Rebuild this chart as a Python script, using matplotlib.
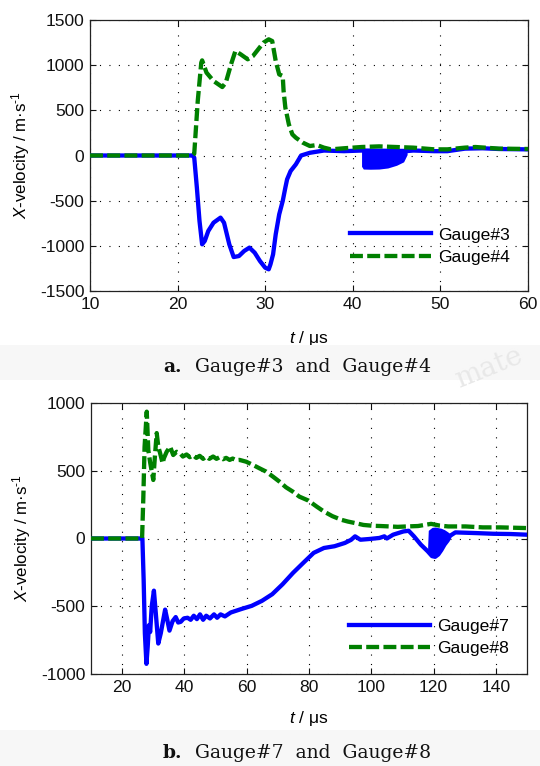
import matplotlib
matplotlib.use("Agg")
import matplotlib.pyplot as plt
from matplotlib.patches import Rectangle

plt.rcParams["font.family"] = ["Liberation Sans", "DejaVu Sans"]
plt.rcParams["mathtext.fontset"] = "custom"
plt.rcParams["mathtext.rm"] = "Liberation Sans"
plt.rcParams["mathtext.it"] = "Liberation Sans:italic"
plt.rcParams["axes.unicode_minus"] = False

# ---- (a) Gauge#3 and Gauge#4 ----
t3 = [10, 21.7, 21.9, 22.2, 22.5, 22.8, 23.1, 23.5, 24.1, 24.9, 25.3, 25.9, 26.4,
      27.0, 27.6, 28.2, 28.8, 29.4, 30.0, 30.4, 30.6, 30.9, 31.2, 31.6, 32.0, 32.3,
      32.5, 32.9, 33.5, 34.1, 35.1, 36.7, 39.0, 41.0, 46.3, 46.9, 49.3, 50.8, 52.8,
      54.8, 56.7, 60]
v3 = [0, 0, -24, -356, -725, -983, -946, -836, -744, -688, -744, -983, -1124,
      -1113, -1057, -1020, -1076, -1168, -1242, -1260, -1205, -1094, -873, -651, -504, -356,
      -264, -172, -98, 0, 30, 55, 48, 55, 50, 55, 48, 48, 76,
      80, 72, 68]
# oscillation envelope of Gauge#3 between 41 and 46 us
t3_band = [41.0, 41.2, 42.0, 43.0, 44.0, 45.0, 45.8, 46.2]
v3_band_lo = [-120, -150, -152, -150, -138, -108, -70, 10]
v3_band_hi = [60, 65, 68, 70, 68, 65, 60, 55]

t4 = [10, 21.7, 21.9, 22.3, 22.7, 22.8, 23.3, 24.1, 25.1, 25.5, 26.1, 26.6, 27.2,
      28.0, 28.6, 29.2, 29.8, 30.4, 30.8, 31.2, 31.6, 32.0, 32.1, 32.3, 32.7, 33.1,
      33.5, 34.3, 35.1, 35.9, 36.7, 37.5, 39.0, 41.0, 43.0, 44.9, 46.9, 49.3, 50.8,
      52.8, 54.0, 56.7, 60]
v4 = [0, 0, 20, 603, 1027, 1053, 917, 825, 758, 806, 1009, 1157, 1120,
      1065, 1101, 1175, 1249, 1286, 1267, 1046, 898, 880, 714, 530, 345, 234,
      197, 142, 105, 116, 87, 68, 80, 94, 101, 94, 87, 68, 68,
      87, 94, 76, 72]

# ---- (b) Gauge#7 and Gauge#8 ----
t7 = [10, 26.5, 26.9, 27.3, 27.8, 28.2, 28.6, 29.0, 29.5, 30.2, 30.8, 31.6, 32.4,
      33.8, 34.5, 35.2, 36.2, 37.2, 38.0, 38.8, 39.8, 41.0, 42.0, 43.0, 44.0, 45.0,
      46.0, 47.0, 48.2, 49.5, 50.5, 51.6, 53.0, 54.9, 58.2, 61.6, 64.9, 68.2, 71.5,
      74.9, 78.2, 81.5, 84.8, 88.2, 91.5, 93.5, 94.8, 96.5, 99.2, 102.6, 104.2, 105.0,
      107.0, 110.3, 112.0, 113.7, 115.9, 118.1, 119.5, 120.5, 121.5, 122.5, 123.5,
      124.5, 125.3, 127.0, 133.6, 139.2, 144.7, 150]
v7 = [0, 0, -300, -700, -925, -800, -640, -690, -500, -385, -550, -775, -700,
      -525, -600, -680, -610, -580, -620, -615, -590, -585, -600, -570, -595, -560,
      -600, -570, -590, -560, -585, -560, -575, -546, -521, -497, -460, -411, -338,
      -253, -179, -106, -70, -57, -33, -10, 16, -9, -4, 4, 16, 0,
      28, 52, 57, 16, -45, -94, -130, -135, -118, -85, -45,
      -15, 20, 45, 40, 35, 33, 28]
# oscillation envelope of Gauge#7 between 118 and 125 us
t7_band = [118.1, 118.3, 119.5, 120.5, 121.5, 122.5, 123.5, 124.5, 125.3]
v7_band_lo = [-94, -105, -130, -135, -118, -85, -45, -15, 20]
v7_band_hi = [-60, 60, 82, 85, 80, 75, 65, 50, 35]

t8 = [10, 26.4, 26.8, 27.2, 27.9, 28.4, 29.0, 30.0, 30.5, 31.1, 31.6, 32.2, 33.0,
      33.4, 34.3, 35.4, 36.4, 37.5, 38.6, 39.5, 40.7, 41.7, 42.8, 43.8, 44.9, 46.0,
      47.0, 48.0, 49.2, 50.3, 51.3, 52.4, 53.4, 54.5, 55.5, 56.6, 57.7, 59.8, 62.0,
      64.1, 66.2, 68.4, 70.5, 72.6, 74.8, 76.9, 79.8, 82.5, 84.8, 87.5, 90.4, 92.5,
      94.8, 97.5, 100.4, 103.0, 105.9, 108.5, 111.4, 115.0, 119.2, 122.0, 124.7,
      130.3, 135.8, 141.4, 150]
v8 = [0, 0, 300, 675, 936, 653, 560, 432, 600, 778, 680, 629, 555,
      592, 640, 678, 616, 640, 629, 605, 620, 600, 615, 595, 610, 588,
      605, 588, 605, 588, 600, 585, 595, 580, 590, 578, 580, 567, 543,
      518, 494, 457, 420, 378, 346, 309, 280, 235, 199, 165, 138, 125,
      114, 100, 94, 92, 89, 86, 89, 92, 108, 95, 89,
      89, 82, 82, 77]

panels = [
    dict(t_a=t3, v_a=v3, band=(t3_band, v3_band_lo, v3_band_hi), t_b=t4, v_b=v4,
         names=("Gauge#3", "Gauge#4"), xlim=(10, 60), xticks=[10, 20, 30, 40, 50, 60],
         ylim=(-1500, 1500), yticks=[-1500, -1000, -500, 0, 500, 1000, 1500],
         caption="Gauge#3  and  Gauge#4", tag="a.",
         rect=[90 / 540, 1 - 291 / 766, 438 / 540, 271 / 766],
         leg=(0.594, 0.165), xlab_y=-0.14, cap_y=1 - 367 / 766),
    dict(t_a=t7, v_a=v7, band=(t7_band, v7_band_lo, v7_band_hi), t_b=t8, v_b=v8,
         names=("Gauge#7", "Gauge#8"), xlim=(10, 150), xticks=[20, 40, 60, 80, 100, 120, 140],
         ylim=(-1000, 1000), yticks=[-1000, -500, 0, 500, 1000],
         caption="Gauge#7  and  Gauge#8", tag="b.",
         rect=[91 / 540, 1 - 674 / 766, 436 / 540, 271 / 766],
         leg=(0.592, 0.135), xlab_y=-0.128, cap_y=1 - 753 / 766),
]

fig = plt.figure(figsize=(5.4, 7.66), dpi=100)
fig.patch.set_facecolor("white")
# light caption strips
fig.patches.append(Rectangle((0, 1 - 380 / 766), 1, 35 / 766, transform=fig.transFigure,
                             facecolor="#f7f7f7", edgecolor="none", zorder=0))
fig.patches.append(Rectangle((0, 0), 1, 36 / 766, transform=fig.transFigure,
                             facecolor="#f7f7f7", edgecolor="none", zorder=0))

BLUE = "#0000ff"
GREEN = "#008000"

for p in panels:
    ax = fig.add_axes(p["rect"])
    ax.set_axisbelow(True)
    ax.grid(True, color="black", linestyle=(0, (1, 7.5)), linewidth=0.8)
    bt, blo, bhi = p["band"]
    ax.fill_between(bt, blo, bhi, color=BLUE, linewidth=0, zorder=2)
    ax.plot(p["t_a"], p["v_a"], color=BLUE, lw=3.1, solid_joinstyle="round",
            label=p["names"][0], zorder=3)
    ax.plot(p["t_b"], p["v_b"], color=GREEN, lw=3.1, linestyle=(0, (3.0, 1.0)),
            label=p["names"][1], zorder=4)
    ax.set_xlim(*p["xlim"])
    ax.set_ylim(*p["ylim"])
    ax.set_xticks(p["xticks"])
    ax.set_yticks(p["yticks"])
    ax.tick_params(direction="in", length=4, width=0.8, top=True, right=True,
                   labelsize=12.6, pad=4, colors="#111111")
    for s in ax.spines.values():
        s.set_linewidth(0.9)
        s.set_color("#222222")
    ax.set_ylabel(r"$\mathit{X}$-velocity / m·s$^{\text{-}1}$", fontsize=12.2)
    ax.yaxis.set_label_coords(-0.132, 0.5)
    ax.set_xlabel(r"$\mathit{t}$ / μs", fontsize=12.6)
    ax.xaxis.set_label_coords(0.5, p["xlab_y"])
    ax.legend(loc="center left", bbox_to_anchor=p["leg"], frameon=False,
              fontsize=12.6, handlelength=4.6, handletextpad=0.45,
              labelspacing=0.42, borderpad=0, borderaxespad=0)
    fig.text(0.302, p["cap_y"], p["tag"], fontsize=13.5, fontweight="bold",
             family="DejaVu Serif", ha="left", va="center", color="#111111")
    fig.text(0.362, p["cap_y"], p["caption"], fontsize=13.5, family="DejaVu Serif",
             ha="left", va="center", color="#111111")

fig.text(0.905, 1 - 368 / 766, "mate", fontsize=20, family="DejaVu Serif",
         color="#e8e8e8", rotation=22, ha="center", va="center", zorder=0)

fig.savefig("out.png", dpi=100)
